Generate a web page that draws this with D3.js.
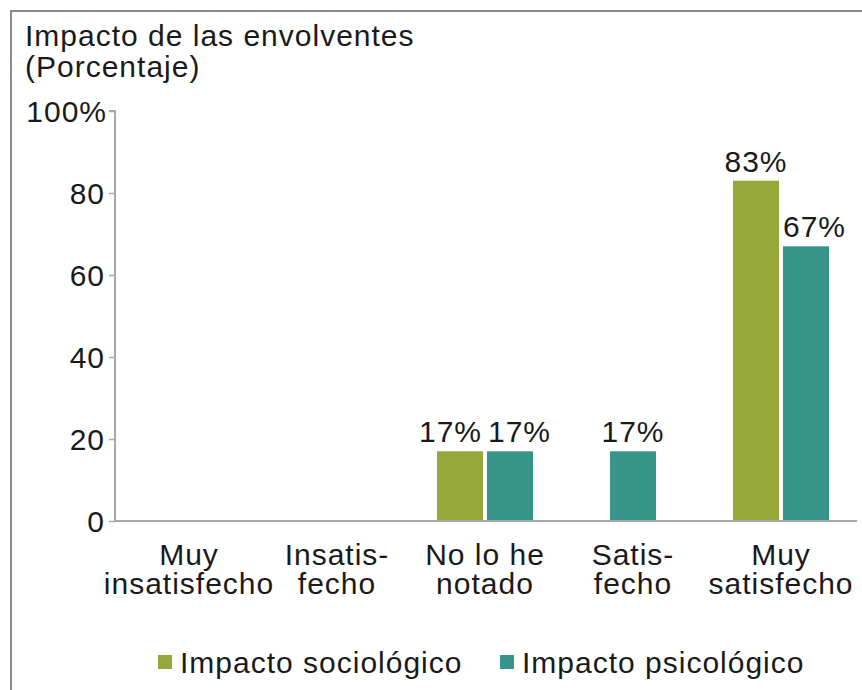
<!DOCTYPE html>
<html>
<head>
<meta charset="utf-8">
<script src="https://cdn.jsdelivr.net/npm/d3@7"></script>
<style>
  body { margin: 0; background: #fff; }
  svg text { font-family: "Liberation Sans", Arial, Helvetica, sans-serif; fill: #1a1a1a; letter-spacing: 1px; }
</style>
</head>
<body>
<div id="chart"></div>
<script>
var categories = [["Muy", "insatisfecho"], ["Insatis-", "fecho"], ["No lo he", "notado"], ["Satis-", "fecho"], ["Muy", "satisfecho"]];
var seriesNames = ["Impacto sociológico", "Impacto psicológico"];
var sociologico = [0, 0, 17, 0, 83];
var psicologico = [0, 0, 17, 17, 67];
var yTicks = [0, 20, 40, 60, 80, 100];

var width = 862, height = 690;
var color = d3.scaleOrdinal(seriesNames, ["#97a83b", "#38958a"]);
var fontSize = 30;

var svg = d3.select("#chart")
    .append("svg")
    .attr("width", width)
    .attr("height", height);

// frame (top and left only)
svg.append("path")
    .attr("d", "M11,690V11H862")
    .attr("fill", "none")
    .attr("stroke", "#8a8a8a")
    .attr("stroke-width", 2);

// title
var title = svg.append("text")
    .attr("x", 25)
    .attr("y", 46)
    .style("font-size", fontSize + "px");
title.append("tspan").attr("x", 25).text("Impacto de las envolventes");
title.append("tspan").attr("x", 25).attr("dy", 31).text("(Porcentaje)");

// scales
var x = d3.scaleBand()
    .domain(d3.range(categories.length))
    .range([115, 855]);

var y = d3.scaleLinear()
    .domain([0, 100])
    .range([521, 111]);

var barW = 46, barGap = 4;

// y axis
var yAxis = d3.axisLeft(y)
    .tickValues(yTicks)
    .tickSize(6)
    .tickPadding(4)
    .tickFormat(function (d) { return d === 100 ? "100%" : d; });

var gy = svg.append("g")
    .attr("transform", "translate(115,0)")
    .call(yAxis);
gy.select(".domain").attr("stroke", "#a8a8a8").attr("stroke-width", 2).attr("d", "M-6,111H0V521");
gy.selectAll(".tick line").attr("stroke", "#a8a8a8").attr("stroke-width", 1.5);
gy.selectAll(".tick text")
    .style("font-size", fontSize + "px")
    .attr("fill", "#1a1a1a")
    .attr("dy", "0.36em");
gy.selectAll(".tick").filter(function (d) { return d === 100; }).select("text").attr("x", -8);

// bars: non-zero bars are centred in each category
var bars = [];
categories.forEach(function (c, i) {
    var vals = [];
    if (sociologico[i] > 0) vals.push({ s: seriesNames[0], v: sociologico[i], cat: i });
    if (psicologico[i] > 0) vals.push({ s: seriesNames[1], v: psicologico[i], cat: i });
    var total = vals.length * barW + (vals.length - 1) * barGap;
    var start = x(i) + x.bandwidth() / 2 - total / 2;
    vals.forEach(function (d, j) {
        d.x = start + j * (barW + barGap);
        bars.push(d);
    });
});

svg.append("g")
    .selectAll("rect")
    .data(bars)
    .join("rect")
    .attr("x", d => d.x)
    .attr("y", d => y(d.v))
    .attr("width", barW)
    .attr("height", d => y(0) - y(d.v))
    .attr("fill", d => color(d.s));

// x axis line
svg.append("line")
    .attr("x1", 115).attr("x2", 857)
    .attr("y1", y(0)).attr("y2", y(0))
    .attr("stroke", "#a8a8a8")
    .attr("stroke-width", 2);

// category labels
var gx = svg.append("g");
categories.forEach(function (c, i) {
    var t = gx.append("text")
        .attr("text-anchor", "middle")
        .style("font-size", fontSize + "px");
    c.forEach(function (line, k) {
        t.append("tspan")
            .attr("x", x(i) + x.bandwidth() / 2)
            .attr("y", 565 + k * 29)
            .text(line);
    });
});

// value labels, nudged apart so they do not collide
var labels = svg.append("g")
    .selectAll("text")
    .data(bars)
    .join("text")
    .attr("text-anchor", "middle")
    .style("font-size", fontSize + "px")
    .attr("y", d => y(d.v) - 9)
    .text(d => d.v + "%");

labels.each(function (d) {
    d.w = this.getComputedTextLength();
    d.cx = d.x + barW / 2;
});
var gapL = 6;
categories.forEach(function (c, i) {
    var g = bars.filter(d => d.cat === i);
    if (g.length < 2) return;
    var a = g[0], b = g[1];
    if (a.v === b.v) {
        var over = (a.cx + a.w / 2) + gapL - (b.cx - b.w / 2);
        if (over > 0) { a.cx -= over / 2; b.cx += over / 2; }
    } else if (a.v > b.v) {
        var minLeft = a.x + barW + 4;
        if (b.cx - b.w / 2 < minLeft) b.cx = minLeft + b.w / 2;
    } else {
        var maxRight = b.x - 4;
        if (a.cx + a.w / 2 > maxRight) a.cx = maxRight - a.w / 2;
    }
});
labels.attr("x", d => d.cx);

// legend
var legend = svg.selectAll(".legend")
    .data(seriesNames)
    .join("g")
    .attr("class", "legend")
    .attr("transform", (d, i) => "translate(" + (158 + i * 342) + ",655)");

legend.append("rect")
    .attr("width", 14)
    .attr("height", 14)
    .attr("fill", d => color(d));

legend.append("text")
    .attr("x", 22)
    .attr("y", 18)
    .style("font-size", fontSize + "px")
    .text(d => d);
</script>
</body>
</html>
